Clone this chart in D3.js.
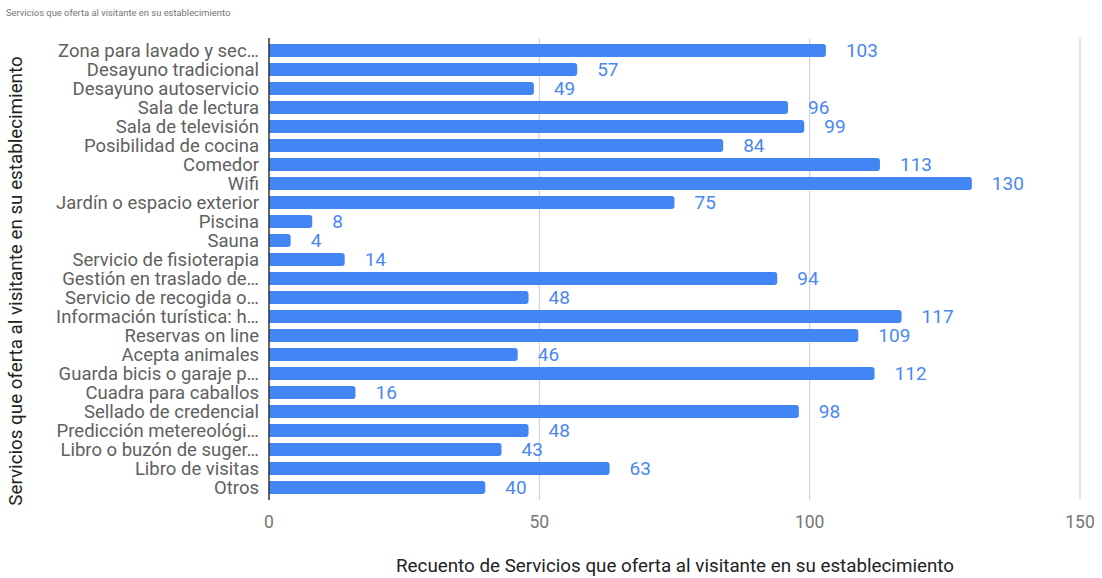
<!DOCTYPE html>
<html>
<head>
<meta charset="utf-8">
<script src="https://cdn.jsdelivr.net/npm/d3@7"></script>
<style>
  html, body { margin: 0; padding: 0; background: #fff; }
  svg { display: block; font-family: Roboto, "Noto Sans", sans-serif; }
</style>
</head>
<body>
<svg id="chart" width="1102" height="578"></svg>
<script>
// Services offered to visitors, counted across establishments
const categories = [
  "Zona para lavado y sec…",
  "Desayuno tradicional",
  "Desayuno autoservicio",
  "Sala de lectura",
  "Sala de televisión",
  "Posibilidad de cocina",
  "Comedor",
  "Wifi",
  "Jardín o espacio exterior",
  "Piscina",
  "Sauna",
  "Servicio de fisioterapia",
  "Gestión en traslado de…",
  "Servicio de recogida o…",
  "Información turística: h…",
  "Reservas on line",
  "Acepta animales",
  "Guarda bicis o garaje p…",
  "Cuadra para caballos",
  "Sellado de credencial",
  "Predicción metereológi…",
  "Libro o buzón de suger…",
  "Libro de visitas",
  "Otros"
];
const counts = [103, 57, 49, 96, 99, 84, 113, 130, 75, 8, 4, 14, 94, 48, 117, 109, 46, 112, 16, 98, 48, 43, 63, 40];
const xTicks = [0, 50, 100, 150];

const chartTitle = "Servicios que oferta al visitante en su establecimiento";
const xTitle = "Recuento de Servicios que oferta al visitante en su establecimiento";
const yTitle = "Servicios que oferta al visitante en su establecimiento";

const svg = d3.select("#chart");

const x = d3.scaleLinear().domain([0, 150]).range([269, 1080]);
const y = d3.scaleBand()
  .domain(categories)
  .range([41, 497])
  .paddingInner(0.32)
  .paddingOuter(0.16);

const plotTop = 38, plotBottom = 500;

// Title
svg.append("text")
  .attr("x", 6).attr("y", 16)
  .attr("font-size", 9.4)
  .attr("fill", "#757575")
  .text(chartTitle);

// Vertical gridlines
svg.append("g")
  .selectAll("line")
  .data(xTicks.filter(d => d !== 0))
  .join("line")
  .attr("x1", d => x(d)).attr("x2", d => x(d))
  .attr("y1", plotTop).attr("y2", plotBottom)
  .attr("stroke", "#cccccc")
  .attr("stroke-width", 1);

// X tick labels
svg.append("g")
  .selectAll("text")
  .data(xTicks)
  .join("text")
  .attr("x", d => x(d))
  .attr("y", 528)
  .attr("text-anchor", "middle")
  .attr("font-size", 17.5)
  .attr("fill", "#757575")
  .text(d => d);

// Bars with rounded right ends
const r = 3;
svg.append("g")
  .selectAll("path")
  .data(counts)
  .join("path")
  .attr("fill", "#4285f4")
  .attr("d", (d, i) => {
    const x0 = x(0), x1 = x(d);
    const y0 = y(categories[i]), h = y.bandwidth();
    const rr = Math.min(r, (x1 - x0) / 2);
    return `M${x0},${y0}H${x1 - rr}Q${x1},${y0} ${x1},${y0 + rr}V${y0 + h - rr}Q${x1},${y0 + h} ${x1 - rr},${y0 + h}H${x0}Z`;
  });

// Value labels
svg.append("g")
  .selectAll("text")
  .data(counts)
  .join("text")
  .attr("x", d => x(d) + 20)
  .attr("y", (d, i) => y(categories[i]) + y.bandwidth() / 2)
  .attr("dy", "0.36em")
  .attr("font-size", 19)
  .attr("fill", "#4a88f0")
  .text(d => d);

// Category labels
svg.append("g")
  .selectAll("text")
  .data(categories)
  .join("text")
  .attr("x", 259)
  .attr("y", d => y(d) + y.bandwidth() / 2)
  .attr("dy", "0.36em")
  .attr("text-anchor", "end")
  .attr("font-size", 18.5)
  .attr("fill", "#5f5f5f")
  .text(d => d);

// Baseline axis
svg.append("line")
  .attr("x1", x(0)).attr("x2", x(0))
  .attr("y1", plotTop).attr("y2", plotBottom)
  .attr("stroke", "#333")
  .attr("stroke-width", 1.5);

// Axis titles
svg.append("text")
  .attr("x", 675).attr("y", 572)
  .attr("text-anchor", "middle")
  .attr("font-size", 18.8)
  .attr("fill", "#222")
  .text(xTitle);

svg.append("text")
  .attr("transform", `translate(22,${(plotTop + plotBottom) / 2 + 12}) rotate(-90)`)
  .attr("text-anchor", "middle")
  .attr("font-size", 18.8)
  .attr("fill", "#222")
  .text(yTitle);
</script>
</body>
</html>
